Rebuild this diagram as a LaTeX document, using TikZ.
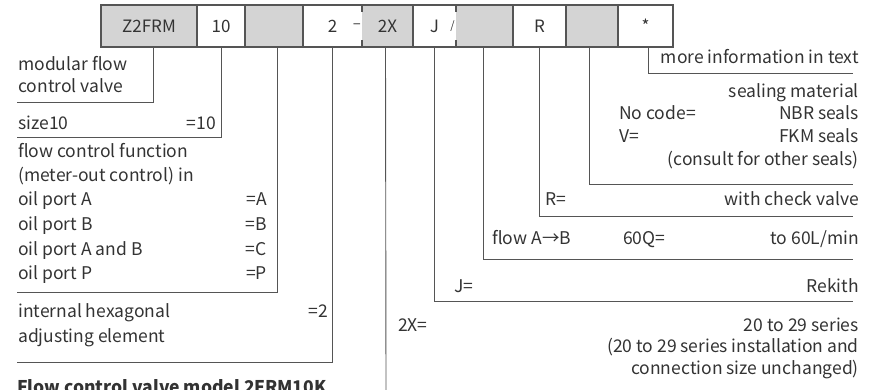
\documentclass[tikz,border=0pt]{standalone}
\usepackage{fontspec}
\setmainfont{Noto Sans CJK SC}
\usepackage{tikz}
\usetikzlibrary{positioning}
\definecolor{boxgray}{HTML}{D4D4D4}
\definecolor{linegray}{HTML}{555555}
\definecolor{textgray}{HTML}{333333}

\begin{document}
\begin{tikzpicture}[
        x=1pt,
        y=-1pt,
        node distance=0pt,
        cell/.style={
            rectangle,
            inner sep=0pt,
            outer sep=0pt,
            minimum height=42pt,
            text=textgray,
            font=\fontsize{17}{20}\selectfont
        },
        graycell/.style={cell, fill=boxgray},
        boxline/.style={draw=linegray, line width=1.2pt},
        leader/.style={draw=linegray, line width=0.9pt},
        txt/.style={inner sep=0pt, text=textgray, font=\fontsize{17.5}{20}\selectfont}
    ]
    \useasboundingbox (0,0) rectangle (886,390);

    % TOP: ORDERING CODE ROW
    \node[graycell, minimum width=96pt] (zfrm) at (149,26) {Z2FRM};
    \node[cell, minimum width=48pt, right=of zfrm] (size) {10};
    \node[graycell, minimum width=58pt, right=of size] (func) {};
    \node[cell, minimum width=59pt, right=of func] (adj) {2};
    \node[graycell, minimum width=51pt, right=of adj] (series) {2X};
    \node[cell, minimum width=43pt, right=of series] (code) {J};
    \node[graycell, minimum width=57pt, right=of code] (flow) {};
    \node[cell, minimum width=53pt, right=of flow] (check) {R};
    \node[graycell, minimum width=52pt, right=of check] (seal) {};
    \node[cell, minimum width=55pt, right=of seal] (more) {*};

    \draw[boxline] (zfrm.north west) rectangle (more.south east);
    \foreach \c in {zfrm,size,func,series,flow,check,seal}
        \draw[boxline] (\c.north east) -- (\c.south east);
    % broken separators
    \foreach \c in {adj,code} {
        \draw[boxline] (\c.north east) -- ++(0,7);
        \draw[boxline] (\c.south east) -- ++(0,-7);
    }
    \node[txt, anchor=east, xshift=-1pt] (dash) at (adj.east) {\fontsize{15}{15}\selectfont --};
    \node[txt, anchor=east, xshift=-1pt] (slash) at (code.east) {\fontsize{11}{11}\selectfont /};

    % ============================================================
    % LEFT LABELS
    % ============================================================
    \coordinate (zfrm_end) at (17,102);
    \coordinate (size_end) at (17,137);
    \coordinate (func_end) at (17,292);
    \coordinate (adj_end) at (17,362);
    \coordinate (series_end) at (386,392);

    \node[txt, anchor=mid west] (t_modular) at (18,68) {modular flow};
    \node[txt, anchor=mid west] (t_valve) at (18,90) {control valve};

    \node[txt, anchor=mid west] (t_size) at (18,127) {size10};
    \node[txt, anchor=mid east] (v_size) at (216,127) {=10};

    \node[txt, anchor=mid west] (t_func) at (18,155) {flow control function};
    \node[txt, anchor=mid west] (t_meter) at (18,179) {(meter-out control) in};
    \node[txt, anchor=mid west] (t_pa) at (18,203) {oil port A};
    \node[txt, anchor=mid east] (v_pa) at (267,203) {=A};
    \node[txt, anchor=mid west] (t_pb) at (18,228) {oil port B};
    \node[txt, anchor=mid east] (v_pb) at (267,228) {=B};
    \node[txt, anchor=mid west] (t_pab) at (18,253) {oil port A and B};
    \node[txt, anchor=mid east] (v_pab) at (267,253) {=C};
    \node[txt, anchor=mid west] (t_pp) at (18,277) {oil port P};
    \node[txt, anchor=mid east] (v_pp) at (267,277) {=P};

    \node[txt, anchor=mid west] (t_hex) at (18,315) {internal hexagonal};
    \node[txt, anchor=mid east] (v_hex) at (328,315) {=2};
    \node[txt, anchor=mid west] (t_elem) at (18,340) {adjusting element};

    \node[txt, anchor=mid west, font=\fontsize{17.5}{20}\selectfont\bfseries] (title) at (17,391) {Flow control valve model 2FRM10K};

    % ============================================================
    % RIGHT LABELS
    % ============================================================
    \coordinate (more_end) at (853,73);
    \coordinate (seal_end) at (853,184);
    \coordinate (check_end) at (853,216);
    \coordinate (flow_end) at (853,259);
    \coordinate (code_end) at (853,301);

    \node[txt, anchor=mid east] (t_more) at (859,61) {more information in text};

    \node[txt, anchor=mid east] (t_seal) at (859,95) {sealing material};
    \node[txt, anchor=mid west] (k_nbr) at (619,117) {No code=};
    \node[txt, anchor=mid east] (t_nbr) at (859,117) {NBR seals};
    \node[txt, anchor=mid west] (k_fkm) at (619,140) {V=};
    \node[txt, anchor=mid east] (t_fkm) at (859,140) {FKM seals};
    \node[txt, anchor=mid east] (t_consult) at (859,163) {(consult for other seals)};

    \node[txt, anchor=mid west] (k_check) at (545,203) {R=};
    \node[txt, anchor=mid east] (t_check) at (859,203) {with check valve};

    \node[txt, anchor=mid west] (k_dir) at (492,242) {flow A→B};
    \node[txt, anchor=mid west] (k_flow) at (623,242) {60Q=};
    \node[txt, anchor=mid east] (t_flow) at (859,242) {to 60L/min};

    \node[txt, anchor=mid west] (k_code) at (454,290) {J=};
    \node[txt, anchor=mid east] (t_code) at (859,290) {Rekith};

    \node[txt, anchor=mid west] (k_series) at (398,329) {2X=};
    \node[txt, anchor=mid east] (t_series) at (859,329) {20 to 29 series};
    \node[txt, anchor=mid east] (t_inst) at (859,350) {(20 to 29 series installation and};
    \node[txt, anchor=mid east] (t_conn) at (859,372) {connection size unchanged)};

    % ============================================================
    % CONNECTIONS
    % ============================================================
    \draw[leader] ([xshift=4pt]zfrm.south) |- (zfrm_end);
    \draw[leader] (size.south) |- (size_end);
    \draw[leader] ([xshift=3pt]func.south) |- (func_end);
    \draw[leader] (adj.south) |- (adj_end);
    \draw[leader] ([xshift=-2pt]series.south) -- (series_end);
    \draw[leader] (code.south) |- (code_end);
    \draw[leader] ([xshift=-1pt]flow.south) |- (flow_end);
    \draw[leader] (check.south) |- (check_end);
    \draw[leader] ([xshift=-3pt]seal.south) |- (seal_end);
    \draw[leader] ([xshift=3pt]more.south) |- (more_end);

\end{tikzpicture}
\end{document}
